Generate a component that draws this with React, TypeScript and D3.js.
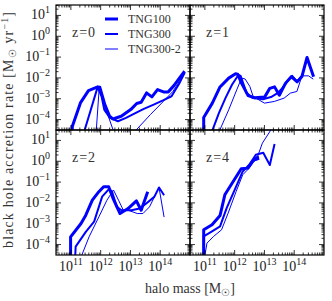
import React from 'react';
import * as d3 from 'd3';

// values are log10(halo mass / Msun) and log10(BH accretion rate / Msun yr^-1)
// points at -6 sit below the axis so the curve enters from the bottom edge
const redshifts = ['z=0', 'z=1', 'z=2', 'z=4'];
const runs = ['TNG100', 'TNG300', 'TNG300-2'];

const z0_tng100_m = [11.0, 11.05, 11.32, 11.59, 11.9, 11.97, 12.14, 12.3, 12.41, 12.69, 13.01, 13.21, 13.36, 13.54, 13.72, 13.91, 14.11, 14.27, 14.46, 14.65, 14.82];
const z0_tng100_r = [-6, -4.32, -3.2, -2.61, -2.43, -2.45, -3.28, -3.84, -3.97, -3.84, -3.52, -3.23, -3.17, -2.72, -2.91, -2.56, -2.67, -2.67, -2.37, -2.0, -1.68];
const z0_tng300_m = [11.4, 11.9, 12.03, 12.12, 12.3, 12.58, 12.85, 13.18, 13.45, 13.78, 14.11, 14.38, 14.65, 14.82];
const z0_tng300_r = [-4.8, -2.43, -2.88, -3.52, -3.9, -4.08, -3.92, -3.68, -3.49, -3.28, -3.07, -2.88, -2.24, -1.76];
const z0_tng3002_m = [11.82, 11.95, 12.14, 12.43, 12.44, 13.15, 13.16, 13.67, 14.11, 14.43, 14.82];
const z0_tng3002_r = [-5.2, -2.5, -3.36, -4.55, -6, -6, -4.55, -3.76, -3.12, -2.64, -1.76];

const z1_tng100_m = [10.96, 10.96, 11.25, 11.5, 11.8, 12.03, 12.1, 12.23, 12.45, 12.67, 13.01, 13.18, 13.34, 13.5, 13.71, 13.9, 14.1, 14.26, 14.43, 14.65];
const z1_tng100_r = [-6, -3.9, -3.21, -2.45, -2.01, -1.8, -1.82, -2.25, -2.85, -2.95, -2.91, -2.5, -2.43, -2.83, -2.25, -1.94, -2.19, -1.93, -1.02, -1.94];
const z1_tng300_m = [11.2, 11.23, 11.47, 11.69, 11.91, 12.13, 12.2, 12.4, 12.62, 12.95, 13.22, 13.44, 13.6, 13.77, 13.93, 14.09, 14.26];
const z1_tng300_r = [-6, -4.6, -3.69, -2.97, -2.33, -1.85, -1.9, -2.73, -2.97, -3.02, -2.92, -2.73, -2.49, -2.17, -1.9, -2.17, -1.9];
const z1_tng3002_m = [11.45, 11.47, 11.8, 12.07, 12.23, 12.35, 12.51, 12.62, 13.0, 13.33, 13.66, 13.87, 14.09, 14.26, 14.48, 14.64];
const z1_tng3002_r = [-6, -4.6, -3.53, -2.57, -2.01, -2.05, -2.41, -2.89, -3.21, -3.13, -2.97, -2.73, -2.65, -1.9, -1.9, -2.06];

const z2_tng100_m = [10.99, 10.99, 11.34, 11.5, 11.72, 11.94, 12.1, 12.27, 12.43, 12.65, 12.92, 13.2, 13.36, 13.58];
const z2_tng100_r = [-6, -3.63, -2.99, -2.59, -1.87, -1.46, -1.22, -1.22, -1.83, -2.51, -2.27, -1.9, -2.35, -1.46];
const z2_tng300_m = [11.1, 11.16, 11.5, 11.78, 12.05, 12.27, 12.38, 12.54, 12.7, 13.03, 13.31, 13.53, 13.8, 13.96, 14.13];
const z2_tng300_r = [-6, -4.1, -3.39, -2.9, -1.7, -1.35, -1.45, -2.19, -2.35, -2.35, -2.27, -2.03, -1.71, -1.26, -1.63];
const z2_tng3002_m = [11.3, 11.34, 11.61, 11.94, 12.21, 12.43, 12.6, 12.76, 12.92, 13.23, 13.42, 13.64, 13.96, 14.13];
const z2_tng3002_r = [-6, -4.6, -3.63, -2.67, -1.87, -1.38, -1.87, -2.35, -2.35, -2.51, -2.51, -2.19, -1.26, -2.68];

const z4_tng100_m = [10.96, 10.96, 11.24, 11.51, 11.67, 11.95, 12.22, 12.44, 12.6, 12.77, 12.7, 12.82];
const z4_tng100_r = [-6, -3.29, -3.05, -2.6, -1.61, -0.97, -0.36, -0.33, 0.0, 0.19, 0.08, 0.15];
const z4_tng300_m = [10.96, 10.96, 11.24, 11.51, 11.73, 12.0, 12.27, 12.49, 12.71, 12.96, 13.18, 13.34];
const z4_tng300_r = [-6, -3.61, -3.37, -3.13, -2.25, -1.37, -0.49, -0.17, 0.31, 0.41, -0.18, 0.83];
const z4_tng3002_m = [10.99, 10.99, 11.07, 11.29, 11.56, 11.78, 12.05, 12.27, 12.49, 12.77, 12.93, 13.26, 13.3];
const z4_tng3002_r = [-6, -4.6, -3.93, -3.61, -3.29, -2.49, -1.45, -0.65, -0.33, 0.23, 0.87, 1.6, 2.0];

const xMajor = [11, 12, 13, 14];
const yMajor = [-4, -3, -2, -1, 0, 1];

const panels = [
  [[z0_tng100_m, z0_tng100_r], [z0_tng300_m, z0_tng300_r], [z0_tng3002_m, z0_tng3002_r]],
  [[z1_tng100_m, z1_tng100_r], [z1_tng300_m, z1_tng300_r], [z1_tng3002_m, z1_tng3002_r]],
  [[z2_tng100_m, z2_tng100_r], [z2_tng300_m, z2_tng300_r], [z2_tng3002_m, z2_tng3002_r]],
  [[z4_tng100_m, z4_tng100_r], [z4_tng300_m, z4_tng300_r], [z4_tng3002_m, z4_tng3002_r]],
];

const widths = [3, 2, 1];
const font = '"Liberation Serif", "DejaVu Serif", serif';

const ML = 56, MT = 5, PW = 134, PH = 125;

const x = d3.scaleLog().domain([10 ** 10.5, 10 ** 15]).range([0, PW]);
const y = d3.scaleLog().domain([10 ** -4.5, 10 ** 1.5]).range([PH, 0]);

const minor = (lo: number, hi: number) => {
  const out: number[] = [];
  for (let e = lo; e <= hi; e++) for (let k = 2; k <= 9; k++) out.push(k * 10 ** e);
  return out;
};
const xMinor = minor(10, 14).filter(v => v > 10 ** 10.5 && v < 10 ** 15);
const yMinor = minor(-5, 1).filter(v => v > 10 ** -4.5 && v < 10 ** 1.5);

const sup = (e: number) => (e < 0 ? '\u2212' + Math.abs(e) : String(e));

const Panel = ({ i }: { i: number }) => {
  const col = i % 2, row = Math.floor(i / 2);
  const x0 = ML + col * PW, y0 = MT + row * PH;
  const line = d3.line<[number, number]>()
    .x(d => x(10 ** d[0]))
    .y(d => y(10 ** d[1]));
  return (
    <g transform={`translate(${x0},${y0})`}>
      <clipPath id={`clip${i}`}><rect width={PW} height={PH} /></clipPath>
      <g clipPath={`url(#clip${i})`}>
        {panels[i].map(([m, r], s) => (
          <path key={s} d={line(m.map((v, j) => [v, r[j]] as [number, number])) || ''}
            fill="none" stroke="#0000ff" strokeWidth={widths[s]} strokeLinejoin="round" />
        ))}
      </g>
      {/* ticks on all four sides, pointing in */}
      <g stroke="#000" strokeWidth={0.8}>
        {xMajor.map(e => (
          <g key={'xM' + e}>
            <line x1={x(10 ** e)} x2={x(10 ** e)} y1={PH} y2={PH - 5} />
            <line x1={x(10 ** e)} x2={x(10 ** e)} y1={0} y2={5} />
          </g>
        ))}
        {xMinor.map(v => (
          <g key={'xm' + v}>
            <line x1={x(v)} x2={x(v)} y1={PH} y2={PH - 2.5} />
            <line x1={x(v)} x2={x(v)} y1={0} y2={2.5} />
          </g>
        ))}
        {yMajor.map(e => (
          <g key={'yM' + e}>
            <line x1={0} x2={5} y1={y(10 ** e)} y2={y(10 ** e)} />
            <line x1={PW} x2={PW - 5} y1={y(10 ** e)} y2={y(10 ** e)} />
          </g>
        ))}
        {yMinor.map(v => (
          <g key={'ym' + v}>
            <line x1={0} x2={2.5} y1={y(v)} y2={y(v)} />
            <line x1={PW} x2={PW - 2.5} y1={y(v)} y2={y(v)} />
          </g>
        ))}
      </g>
      <rect width={PW} height={PH} fill="none" stroke="#000" strokeWidth={1.2} />
      <text x={16} y={32} fontSize={14} fill="#333" letterSpacing={1}>{redshifts[i]}</text>
      {col === 0 && yMajor.map(e => (
        <text key={'yl' + e} x={-6} y={y(10 ** e) + 4} textAnchor="end" fontSize={14} fill="#222">
          10<tspan dy={-6} fontSize={10}>{sup(e)}</tspan>
        </text>
      ))}
      {row === 1 && xMajor.map(e => (
        <text key={'xl' + e} x={x(10 ** e)} y={PH + 16} textAnchor="middle" fontSize={14} fill="#222">
          10<tspan dy={-6} fontSize={10}>{sup(e)}</tspan>
        </text>
      ))}
      {i === 0 && runs.map((name, s) => (
        <g key={name} transform={`translate(0,${14 + s * 15})`}>
          <line x1={49} x2={62} y1={0} y2={0} stroke="#0000ff" strokeWidth={widths[s]} />
          <text x={72} y={4} fontSize={12} fill="#333">{name}</text>
        </g>
      ))}
    </g>
  );
};

export default function App() {
  return (
    <svg width={332} height={301} style={{ position: 'absolute', left: 0, top: 0, background: '#fff' }} fontFamily={font}>
      <rect width={332} height={301} fill="#fff" />
      {[0, 1, 2, 3].map(i => <Panel key={i} i={i} />)}
      <text transform={`translate(13,${MT + PH})rotate(-90)`} textAnchor="middle" fontSize={14} fill="#333"
        textLength={236}>
        black hole accretion rate [M<tspan dy={3} fontSize={10}>☉</tspan><tspan dy={-3}> yr</tspan><tspan dy={-5} fontSize={10}>−1</tspan><tspan dy={5}>]</tspan>
      </text>
      <text x={ML + PW} y={293} textAnchor="middle" fontSize={14} fill="#333">
        halo mass [M<tspan dy={3} fontSize={10}>☉</tspan><tspan dy={-3}>]</tspan>
      </text>
    </svg>
  );
}
